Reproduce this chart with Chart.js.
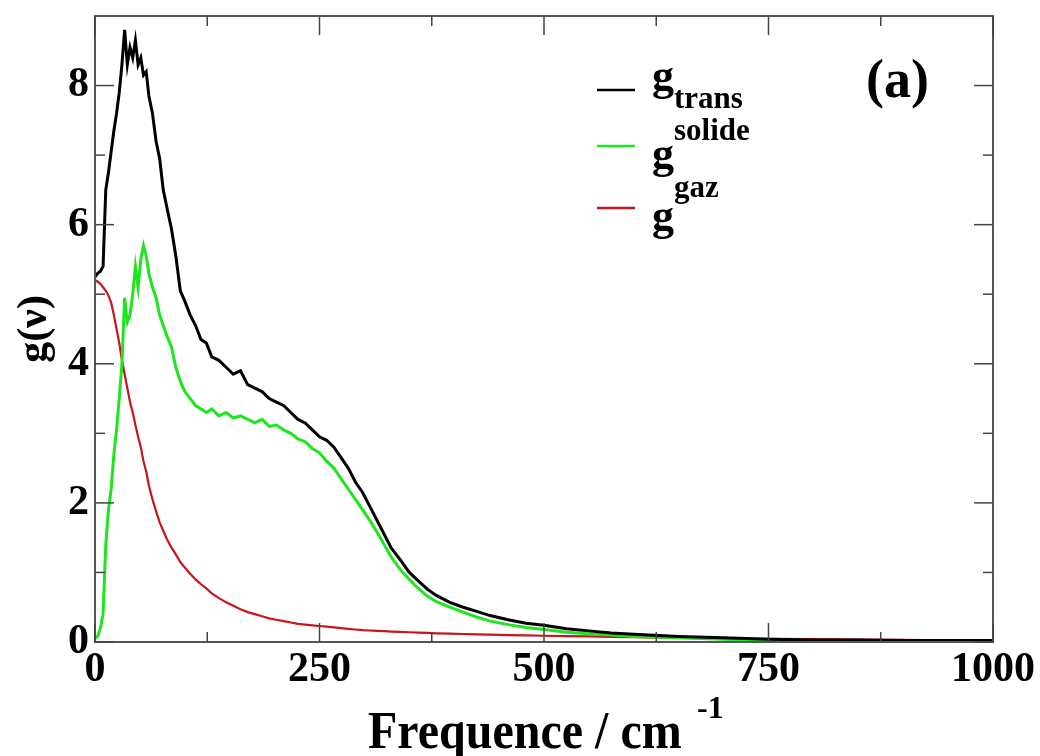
<!DOCTYPE html>
<html>
<head>
<meta charset="utf-8">
<script src="https://cdn.jsdelivr.net/npm/chart.js@4"></script>
<style>
  body { margin: 0; background: #fff; }
  #wrap { width: 1040px; height: 756px; }
</style>
</head>
<body>
<div id="wrap"><canvas id="dos-chart"></canvas></div>
<script>
// frequencies (cm-1) shared by the three curves
const freq = [
  0, 3, 6, 9, 12, 15, 18, 21, 24, 27,
  30, 33, 36, 39, 42, 45, 48, 51, 54, 57,
  60, 64, 68, 72, 76, 80, 85, 90, 95, 100,
  106, 112, 118, 124, 130, 138, 146, 154, 162, 170,
  178, 186, 194, 202, 210, 218, 226, 234, 242, 250,
  258, 266, 274, 282, 290, 298, 306, 314, 322, 330,
  340, 350, 360, 370, 380, 395, 410, 425, 440, 460,
  480, 500, 525, 550, 575, 600, 650, 700, 750, 800,
  850, 900, 950, 1000
];

const gTrans = [
  5.25, 5.3, 5.33, 5.4, 6.5, 6.75, 7.05, 7.35, 7.6, 7.9,
  8.3, 8.8, 8.3, 8.55, 8.4, 8.65, 8.3, 8.4, 8.15, 8.2,
  7.85, 7.6, 7.2, 6.95, 6.5, 6.25, 5.95, 5.55, 5.05, 4.9,
  4.7, 4.55, 4.35, 4.3, 4.1, 4.05, 3.95, 3.85, 3.9, 3.7,
  3.65, 3.6, 3.5, 3.45, 3.4, 3.3, 3.2, 3.15, 3.05, 2.95,
  2.9, 2.8, 2.65, 2.5, 2.3, 2.15, 1.95, 1.75, 1.55, 1.35,
  1.18, 1.0, 0.88, 0.76, 0.67, 0.57, 0.5, 0.44, 0.38, 0.32,
  0.27, 0.24, 0.19, 0.16, 0.13, 0.11, 0.08, 0.06, 0.04, 0.03,
  0.03, 0.02, 0.02, 0.02
];

const gSolide = [
  0.05, 0.08, 0.2, 0.4, 1.4, 1.9, 2.2, 2.7, 3.05, 3.5,
  4.0, 4.95, 4.6, 4.7, 5.0, 5.4, 5.1, 5.5, 5.7, 5.55,
  5.3, 5.1, 4.95, 4.7, 4.55, 4.4, 4.25, 3.95, 3.75, 3.6,
  3.5, 3.4, 3.35, 3.3, 3.35, 3.25, 3.3, 3.22, 3.25, 3.2,
  3.15, 3.2, 3.1, 3.12, 3.05, 3.0, 2.92, 2.88, 2.78, 2.72,
  2.6, 2.5, 2.35, 2.2, 2.05, 1.9, 1.75, 1.58, 1.4, 1.22,
  1.04, 0.9, 0.77, 0.66, 0.58, 0.5, 0.43, 0.36, 0.3, 0.25,
  0.21, 0.18, 0.14, 0.12, 0.1, 0.08, 0.06, 0.04, 0.03, 0.02,
  0.02, 0.02, 0.01, 0.01
];

const gGaz = [
  5.2, 5.18, 5.15, 5.1, 5.05, 4.98, 4.88, 4.7, 4.5, 4.3,
  4.05, 3.85, 3.65, 3.45, 3.3, 3.12, 2.95, 2.8, 2.6, 2.45,
  2.25, 2.05, 1.88, 1.72, 1.6, 1.48, 1.36, 1.26, 1.15, 1.07,
  0.98, 0.9, 0.83, 0.77, 0.7, 0.63, 0.57, 0.52, 0.47, 0.43,
  0.4, 0.37, 0.34, 0.32, 0.3, 0.28, 0.26, 0.25, 0.24, 0.23,
  0.22, 0.21, 0.2, 0.19, 0.18, 0.17, 0.165, 0.16, 0.155, 0.15,
  0.145, 0.14, 0.135, 0.13, 0.125, 0.12, 0.115, 0.11, 0.105, 0.1,
  0.095, 0.09, 0.085, 0.08, 0.075, 0.07, 0.06, 0.05, 0.045, 0.04,
  0.035, 0.03, 0.025, 0.02
];

const xTicks = [0, 250, 500, 750, 1000];
const xMinor = [125, 375, 625, 875];
const yTicks = [0, 2, 4, 6, 8];
const yMinor = [1, 3, 5, 7];

const serif = '"Liberation Serif", "Times New Roman", serif';
const toPoints = (ys) => freq.map((f, i) => ({ x: f, y: ys[i] }));

// box round the plot with inward ticks on all four sides, legend and labels
const framePlugin = {
  id: "frame",
  afterDraw(chart) {
    const { ctx, chartArea: a, scales } = chart;
    const x = scales.x, y = scales.y;
    ctx.save();
    ctx.strokeStyle = "#555";
    ctx.lineWidth = 2;
    ctx.strokeRect(a.left, a.top, a.right - a.left, a.bottom - a.top);

    ctx.strokeStyle = "#444";
    ctx.lineWidth = 1.5;
    const seg = (x1, y1, x2, y2) => {
      ctx.beginPath(); ctx.moveTo(x1, y1); ctx.lineTo(x2, y2); ctx.stroke();
    };
    const xt = (v, len) => {
      const p = x.getPixelForValue(v);
      seg(p, a.bottom, p, a.bottom - len);
      seg(p, a.top, p, a.top + len);
    };
    const yt = (v, len) => {
      const p = y.getPixelForValue(v);
      seg(a.left, p, a.left + len, p);
      seg(a.right, p, a.right - len, p);
    };
    xTicks.forEach(v => xt(v, 19));
    xMinor.forEach(v => xt(v, 10));
    yTicks.forEach(v => yt(v, 19));
    yMinor.forEach(v => yt(v, 10));

    // x axis title with superscript (slightly tall, like the original)
    ctx.fillStyle = "#000";
    ctx.textBaseline = "alphabetic";
    ctx.textAlign = "left";
    ctx.font = "bold 48px " + serif;
    ctx.save();
    ctx.translate(368, 748);
    ctx.scale(1, 1.12);
    ctx.fillText("Frequence / cm", 0, 0);
    ctx.restore();
    ctx.font = "bold 32px " + serif;
    ctx.fillText("-1", 697, 718);

    // panel label
    ctx.font = "bold 54px " + serif;
    ctx.fillText("(a)", 866, 97);

    // legend
    const ds = chart.data.datasets;
    const rows = [
      { lineY: 90, gBase: 90, sub: "trans", subBase: 108 },
      { lineY: 146, gBase: 168, sub: "solide", subBase: 140 },
      { lineY: 208, gBase: 230, sub: "gaz", subBase: 197 }
    ];
    rows.forEach((r, i) => {
      ctx.strokeStyle = ds[i].borderColor;
      ctx.lineWidth = 2.5;
      seg(597, r.lineY, 635, r.lineY);
      ctx.fillStyle = "#000";
      ctx.font = "bold 44px " + serif;
      ctx.fillText("g", 652, r.gBase);
      ctx.font = "bold 31px " + serif;
      ctx.fillText(r.sub, 674, r.subBase);
    });
    ctx.restore();
  }
};

const config = {
  type: "line",
  data: {
    datasets: [
      { label: "g trans", data: toPoints(gTrans), borderColor: "#000000", borderWidth: 3 },
      { label: "g solide", data: toPoints(gSolide), borderColor: "#1ee61e", borderWidth: 3 },
      { label: "g gaz", data: toPoints(gGaz), borderColor: "#c8141c", borderWidth: 2.2 }
    ]
  },
  options: {
    responsive: true,
    maintainAspectRatio: false,
    animation: false,
    layout: { padding: { left: 0, right: 47, top: 16, bottom: 0 } },
    elements: { point: { radius: 0 }, line: { tension: 0, fill: false } },
    plugins: { legend: { display: false }, tooltip: { enabled: false } },
    scales: {
      x: {
        type: "linear",
        min: 0,
        max: 1000,
        afterBuildTicks: (s) => { s.ticks = xTicks.map(v => ({ value: v })); },
        afterFit: (s) => { s.height = 114; s.paddingLeft = 0; s.paddingRight = 0; },
        grid: { display: false, drawTicks: false },
        border: { display: false },
        ticks: {
          color: "#000", padding: 3, maxRotation: 0,
          callback: (v) => String(v),
          font: { family: serif, size: 42, weight: "bold" }
        }
      },
      y: {
        min: 0,
        max: 9,
        afterBuildTicks: (s) => { s.ticks = yTicks.map(v => ({ value: v })); },
        afterFit: (s) => { s.width = 95; s.paddingTop = 0; s.paddingBottom = 0; },
        grid: { display: false, drawTicks: false },
        border: { display: false },
        ticks: {
          color: "#000", padding: 6,
          callback: (v) => String(v),
          font: { family: serif, size: 42, weight: "bold" }
        },
        title: {
          display: true,
          text: "g(ν)",
          color: "#000",
          padding: { top: 10, bottom: 0 },
          font: { family: serif, size: 42, weight: "bold" }
        }
      }
    }
  },
  plugins: [framePlugin]
};

new Chart(document.getElementById("dos-chart"), config);
</script>
</body>
</html>
